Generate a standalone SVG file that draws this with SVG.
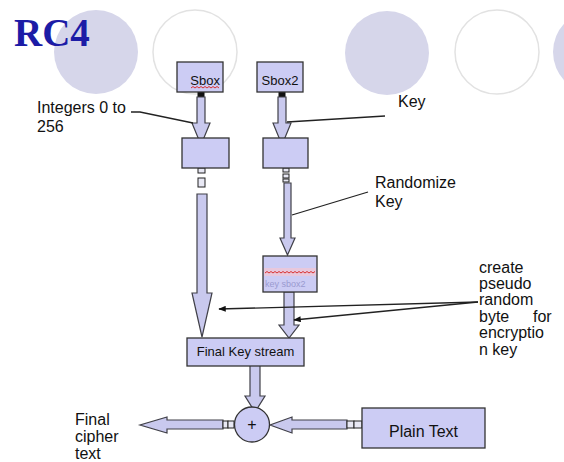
<svg xmlns="http://www.w3.org/2000/svg" width="564" height="462" viewBox="0 0 564 462">
  <defs>
    <style>
      .box { fill: #ccccf4; stroke: #333; stroke-width: 1.3; }
      .arr { fill: #c9c9ee; stroke: #404048; stroke-width: 1.2; stroke-linejoin: miter; }
      .sq { fill: #e8e8f4; stroke: #222; stroke-width: 1; }
      .sqd { fill: #111; stroke: #111; stroke-width: 1; }
      .lbl { font-family: "Liberation Sans", Arial, sans-serif; font-size: 16px; fill: #111; }
      .small { font-family: "Liberation Sans", Arial, sans-serif; font-size: 13px; fill: #111; }
      .lead { stroke: #222; stroke-width: 1.3; fill: none; }
      .wavy { stroke: #d83030; stroke-width: 1; fill: none; }
      .bgc { fill: #d6d6ea; }
      .bgo { fill: none; stroke: #e2e2e2; stroke-width: 1.5; }
    </style>
    <marker id="ah" viewBox="0 0 10 8" refX="9" refY="4" markerWidth="8" markerHeight="6" orient="auto" markerUnits="userSpaceOnUse">
      <path d="M0,0 L10,4 L0,8 Z" fill="#111"/>
    </marker>
  </defs>

  <rect width="564" height="462" fill="#ffffff"/>

  <g id="background">
    <circle class="bgc" cx="96" cy="52" r="42"/>
    <circle class="bgo" cx="195" cy="52" r="42"/>
    <circle class="bgc" cx="387" cy="53" r="42"/>
    <circle class="bgo" cx="497" cy="52" r="42"/>
    <circle class="bgc" cx="595" cy="52" r="42"/>
  </g>

  <g id="title">
    <text x="14" y="46" font-family="Liberation Serif, 'Times New Roman', serif" font-weight="bold" font-size="39" fill="#1c1ca6">RC4</text>
  </g>

  <g id="connectors">
    <!-- Sbox -> box1 -->
    <rect class="sqd" x="198" y="92" width="6" height="5"/>
    <polygon class="arr" points="197,97 205,97 205,123 210,123 201,145 192,123 197,123"/>
    <!-- Sbox2 -> box2 -->
    <rect class="sqd" x="279" y="92" width="6" height="5"/>
    <polygon class="arr" points="278,97 286,97 286,123 291,123 282,145 273,123 278,123"/>
    <!-- box1 -> Final -->
    <rect class="sq" x="198" y="168" width="7" height="5"/>
    <rect class="sq" x="198" y="178" width="7" height="9"/>
    <polygon class="arr" points="197,194 207,194 207,293 212,293 202,337 192,293 197,293"/>
    <!-- box2 -> key box -->
    <rect class="sq" x="283" y="168" width="6" height="4"/>
    <rect class="sq" x="283" y="174" width="6" height="4"/>
    <rect class="sq" x="283" y="179" width="6" height="3"/>
    <polygon class="arr" points="284,183 291,183 291,238 295,238 287.5,255 280,238 284,238"/>
    <!-- key box -> Final -->
    <polygon class="arr" points="284,292 294,292 294,325 299,325 289,338 279,325 284,325"/>
    <rect class="sqd" x="286" y="284" width="7" height="5"/>
    <!-- Final -> XOR -->
    <rect class="sq" x="252" y="360" width="7" height="5"/>
    <polygon class="arr" points="250,365 260,365 260,396 265,396 255,412 245,396 250,396"/>
    <!-- XOR -> cipher text -->
    <polygon class="arr" points="223,420 223,429 167,429 167,433 140,425 167,417 167,420"/>
    <rect class="sq" x="223" y="421" width="5" height="7"/>
    <rect class="sq" x="228" y="421" width="6" height="7"/>
    <!-- Plain Text -> XOR -->
    <polygon class="arr" points="347,420 347,429 292,429 292,433 270,425 292,417 292,420"/>
    <rect class="sq" x="347" y="421" width="7" height="7"/>
    <rect class="sq" x="354" y="421" width="8" height="7"/>

    <!-- leader lines -->
    <polyline class="lead" points="131,112 140,112 193,123"/>
    <line class="lead" x1="385" y1="116" x2="287" y2="122"/>
    <line class="lead" x1="368" y1="192" x2="292" y2="215"/>
    <line class="lead" x1="478" y1="302" x2="219" y2="309" marker-end="url(#ah)"/>
    <line class="lead" x1="478" y1="302" x2="294" y2="320" marker-end="url(#ah)"/>
  </g>

  <g id="sbox">
    <rect class="box" x="177" y="62" width="46" height="30"/>
    <text class="small" x="220" y="85" text-anchor="end">Sbox</text>
    <path class="wavy" d="M191,88 l2,-1.5 l2,1.5 l2,-1.5 l2,1.5 l2,-1.5 l2,1.5 l2,-1.5 l2,1.5 l2,-1.5 l2,1.5 l2,-1.5 l2,1.5 l2,-1.5 l2,1.5"/>
  </g>

  <g id="sbox2">
    <rect class="box" x="257" y="62" width="46" height="30"/>
    <text class="small" x="280" y="85" text-anchor="middle">Sbox2</text>
  </g>

  <g id="box1">
    <rect class="box" x="182" y="138" width="47" height="30"/>
  </g>

  <g id="box2">
    <rect class="box" x="263" y="138" width="45" height="30"/>
  </g>

  <g id="keybox">
    <rect class="box" x="263" y="256" width="54" height="36"/>
    <rect x="264" y="268" width="52" height="8" fill="#e8c8dc"/>
    <path class="wavy" d="M265,273 l2,-1.5 l2,1.5 l2,-1.5 l2,1.5 l2,-1.5 l2,1.5 l2,-1.5 l2,1.5 l2,-1.5 l2,1.5 l2,-1.5 l2,1.5 l2,-1.5 l2,1.5 l2,-1.5 l2,1.5 l2,-1.5 l2,1.5 l2,-1.5 l2,1.5 l2,-1.5 l2,1.5 l2,-1.5 l2,1.5 l2,-1.5"/>
    <text x="265" y="287" font-family="Liberation Sans, Arial, sans-serif" font-size="9" fill="#9a9ad0">key   sbox2</text>
  </g>

  <g id="final">
    <rect class="box" x="187" y="338" width="117" height="28"/>
    <text class="small" x="245.5" y="356" text-anchor="middle">Final Key stream</text>
  </g>

  <g id="xor">
    <circle cx="252" cy="424.5" r="17.5" fill="#ccccf4" stroke="#333" stroke-width="1.3"/>
    <text x="252" y="430" text-anchor="middle" font-family="Liberation Sans, Arial, sans-serif" font-size="16" fill="#111">+</text>
  </g>

  <g id="plain">
    <rect class="box" x="362" y="408" width="123" height="40"/>
    <text class="lbl" x="423.5" y="437" text-anchor="middle" font-size="17">Plain Text</text>
  </g>

  <g id="labels">
    <text class="lbl"><tspan x="37" y="113">Integers 0 to</tspan><tspan x="37" y="132">256</tspan></text>
    <text class="lbl" x="398" y="107">Key</text>
    <text class="lbl"><tspan x="375" y="188">Randomize</tspan><tspan x="375" y="207">Key</tspan></text>
    <text class="lbl">
      <tspan x="479" y="273">create</tspan>
      <tspan x="479" y="289">pseudo</tspan>
      <tspan x="479" y="305">random</tspan>
      <tspan x="479" y="322">byte</tspan>
      <tspan x="533" y="322">for</tspan>
      <tspan x="479" y="338">encryptio</tspan>
      <tspan x="479" y="355">n key</tspan>
    </text>
    <text class="lbl"><tspan x="75" y="425">Final</tspan><tspan x="75" y="442">cipher</tspan><tspan x="75" y="459">text</tspan></text>
  </g>
</svg>
